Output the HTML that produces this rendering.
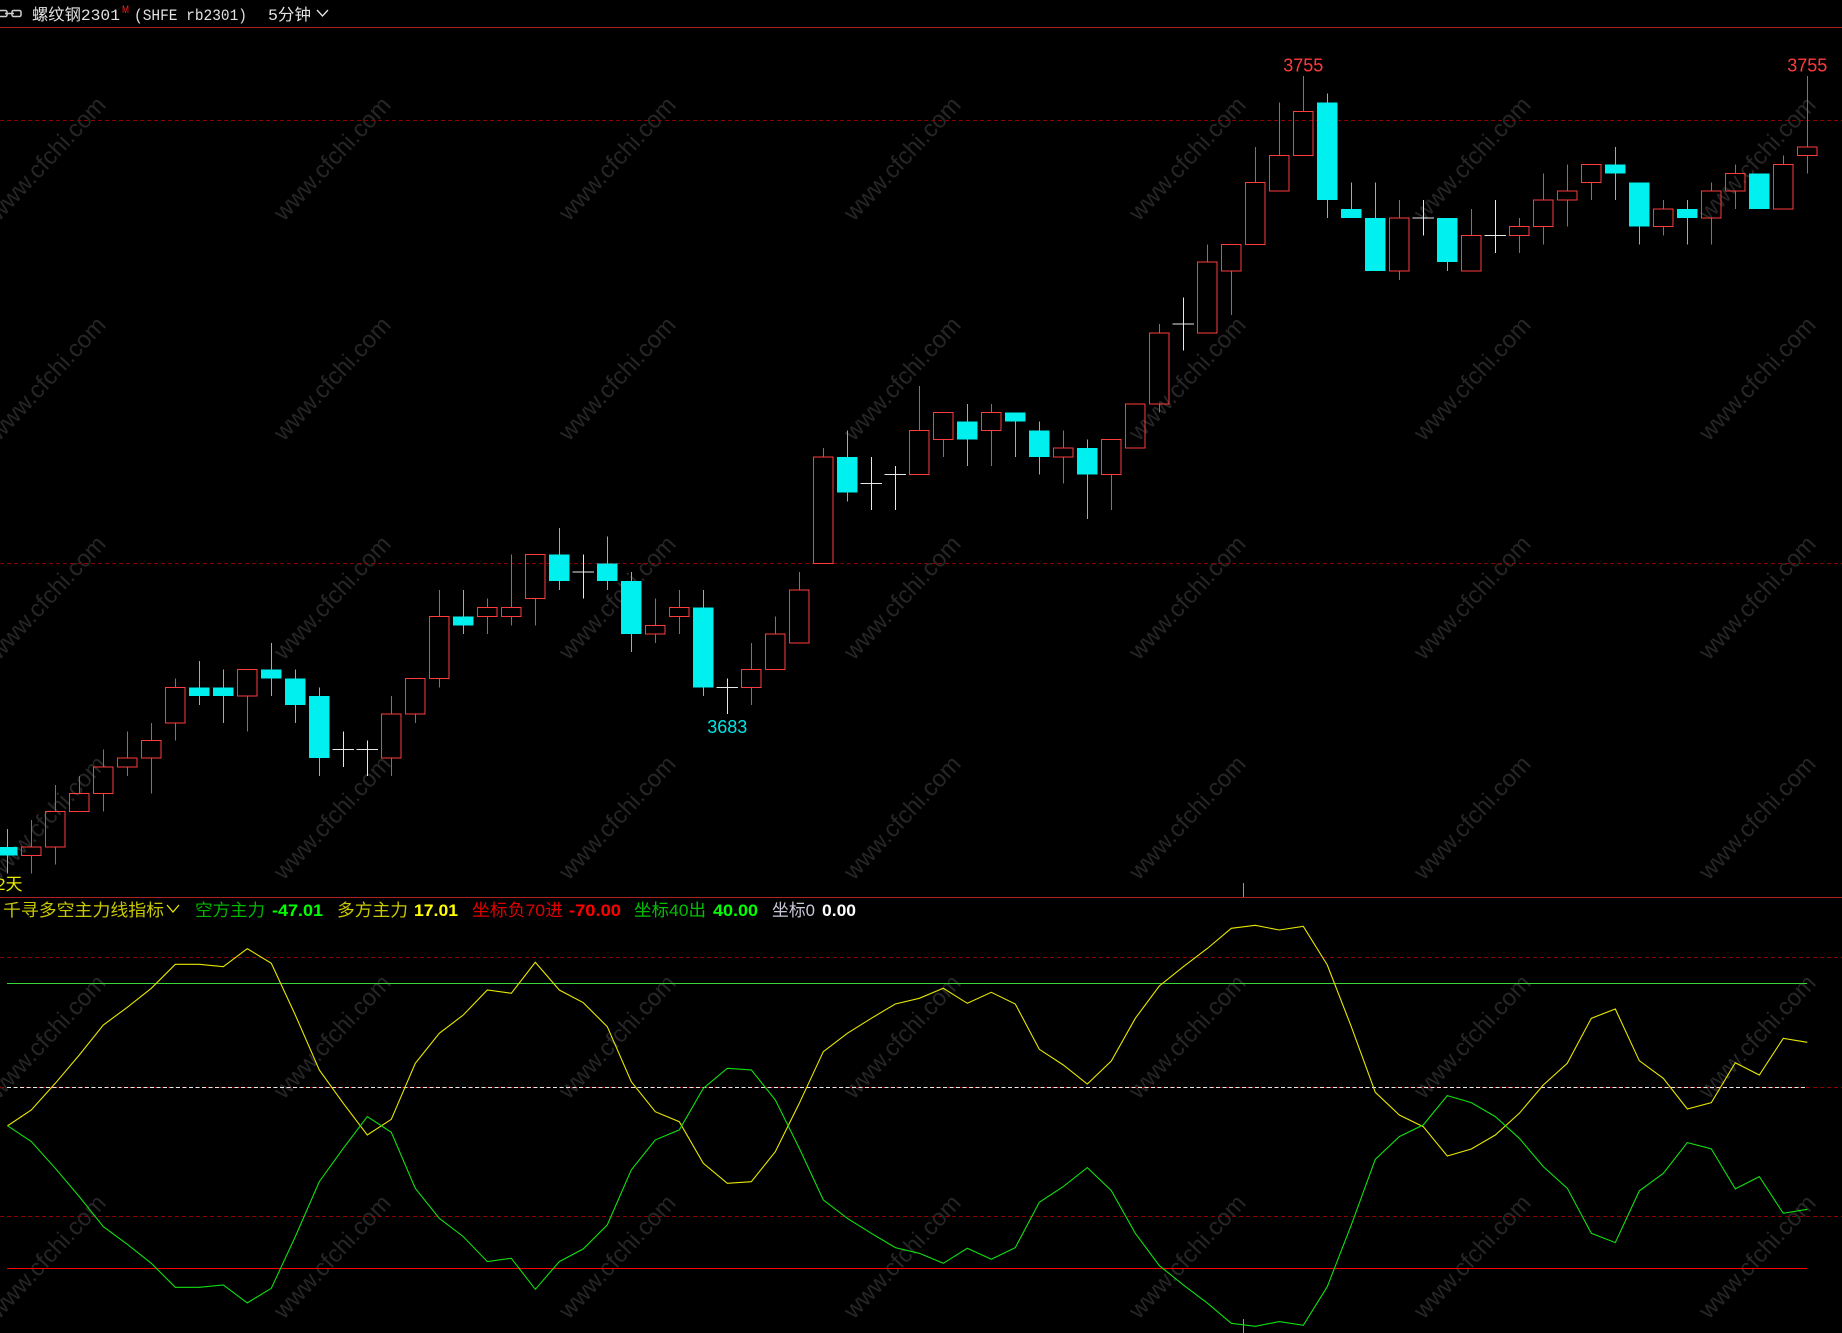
<!DOCTYPE html>
<html><head><meta charset="utf-8"><style>
html,body{margin:0;padding:0;background:#000;}
svg{display:block;}
</style></head><body>
<svg width="1842" height="1333" viewBox="0 0 1842 1333" xmlns="http://www.w3.org/2000/svg">
<rect width="1842" height="1333" fill="#000"/>
<!-- watermarks -->
<g font-family="Liberation Sans, sans-serif" font-size="24" fill="#262626" text-anchor="middle">
<g id="wr">
<text transform="translate(53 164) rotate(-47)">www.cfchi.com</text>
<text transform="translate(338 164) rotate(-47)">www.cfchi.com</text>
<text transform="translate(623 164) rotate(-47)">www.cfchi.com</text>
<text transform="translate(908 164) rotate(-47)">www.cfchi.com</text>
<text transform="translate(1193 164) rotate(-47)">www.cfchi.com</text>
<text transform="translate(1478 164) rotate(-47)">www.cfchi.com</text>
<text transform="translate(1763 164) rotate(-47)">www.cfchi.com</text>
</g>
<text transform="translate(53 384) rotate(-47)">www.cfchi.com</text>
<text transform="translate(338 384) rotate(-47)">www.cfchi.com</text>
<text transform="translate(623 384) rotate(-47)">www.cfchi.com</text>
<text transform="translate(908 384) rotate(-47)">www.cfchi.com</text>
<text transform="translate(1193 384) rotate(-47)">www.cfchi.com</text>
<text transform="translate(1478 384) rotate(-47)">www.cfchi.com</text>
<text transform="translate(1763 384) rotate(-47)">www.cfchi.com</text>
<text transform="translate(53 603) rotate(-47)">www.cfchi.com</text>
<text transform="translate(338 603) rotate(-47)">www.cfchi.com</text>
<text transform="translate(623 603) rotate(-47)">www.cfchi.com</text>
<text transform="translate(908 603) rotate(-47)">www.cfchi.com</text>
<text transform="translate(1193 603) rotate(-47)">www.cfchi.com</text>
<text transform="translate(1478 603) rotate(-47)">www.cfchi.com</text>
<text transform="translate(1763 603) rotate(-47)">www.cfchi.com</text>
<text transform="translate(53 823) rotate(-47)">www.cfchi.com</text>
<text transform="translate(338 823) rotate(-47)">www.cfchi.com</text>
<text transform="translate(623 823) rotate(-47)">www.cfchi.com</text>
<text transform="translate(908 823) rotate(-47)">www.cfchi.com</text>
<text transform="translate(1193 823) rotate(-47)">www.cfchi.com</text>
<text transform="translate(1478 823) rotate(-47)">www.cfchi.com</text>
<text transform="translate(1763 823) rotate(-47)">www.cfchi.com</text>
<text transform="translate(53 1042) rotate(-47)">www.cfchi.com</text>
<text transform="translate(338 1042) rotate(-47)">www.cfchi.com</text>
<text transform="translate(623 1042) rotate(-47)">www.cfchi.com</text>
<text transform="translate(908 1042) rotate(-47)">www.cfchi.com</text>
<text transform="translate(1193 1042) rotate(-47)">www.cfchi.com</text>
<text transform="translate(1478 1042) rotate(-47)">www.cfchi.com</text>
<text transform="translate(1763 1042) rotate(-47)">www.cfchi.com</text>
<text transform="translate(53 1262) rotate(-47)">www.cfchi.com</text>
<text transform="translate(338 1262) rotate(-47)">www.cfchi.com</text>
<text transform="translate(623 1262) rotate(-47)">www.cfchi.com</text>
<text transform="translate(908 1262) rotate(-47)">www.cfchi.com</text>
<text transform="translate(1193 1262) rotate(-47)">www.cfchi.com</text>
<text transform="translate(1478 1262) rotate(-47)">www.cfchi.com</text>
<text transform="translate(1763 1262) rotate(-47)">www.cfchi.com</text>
</g>

<!-- header -->
<g fill="none" stroke="#cfcfcf" stroke-width="1.5">
<rect x="-3" y="10.5" width="10" height="6" rx="1.5"/>
<rect x="12" y="10.5" width="9" height="6" rx="1.5"/>
<line x1="5" y1="13.5" x2="14" y2="13.5"/>
</g>
<g font-family="Liberation Mono, Noto Sans CJK SC, monospace" font-size="16" fill="#e2e2e2">
<text x="32" y="20" textLength="88" lengthAdjust="spacingAndGlyphs">螺纹钢2301</text>
<text x="134" y="20" textLength="113" lengthAdjust="spacingAndGlyphs">(SHFE rb2301)</text>
<text x="268" y="20" textLength="43" lengthAdjust="spacingAndGlyphs">5分钟</text>
</g>
<text x="122" y="13" font-family="Liberation Sans, sans-serif" font-size="11" fill="#ff2020" textLength="7" lengthAdjust="spacingAndGlyphs">M</text>
<polyline points="317,10 322.5,16 328,10" fill="none" stroke="#e2e2e2" stroke-width="1.3"/>
<line x1="0" y1="27.5" x2="1842" y2="27.5" stroke="#b02020" stroke-width="1"/>

<!-- main grid dashed -->
<g stroke="#8b0000" stroke-width="1" stroke-dasharray="4 3">
<line x1="0" y1="120.5" x2="1842" y2="120.5"/>
<line x1="0" y1="563.5" x2="1842" y2="563.5"/>
</g>

<!-- candles -->
<g transform="translate(7.3 76) scale(24 8.86)" shape-rendering="crispEdges">
<path vector-effect="non-scaling-stroke" stroke="#ff3c3c" stroke-width="1" fill="none" d="M1 84V87M1 88V90M2 80V83M2 87V89M3 79V81M4 76V78M4 81V83M5 74V77M5 78V79M6 73V75M6 77V81M7 68V69M7 73V75M10 70V74M16 70V72M16 77V79M17 72V73M18 58V61M18 68V69M20 59V60M20 61V63M21 54V60M21 61V62M22 59V62M27 59V62M27 63V64M28 58V60M28 61V63M31 64V67M31 69V71M32 61V63M33 56V58M34 42V43M38 35V40M39 41V43M41 37V38M41 40V44M44 40V42M44 43V46M46 45V49M48 28V29M48 37V38M50 19V21M51 22V27M52 8V12M53 3V9M54 0V4M58 14V16M58 22V23M61 15V18M63 16V17M63 18V20M64 11V14M64 17V19M65 10V13M65 14V17M66 12V14M69 14V15M69 17V18M71 12V13M71 16V19M72 10V11M72 13V15M74 9V10M75 0V8M75 9V11"/>
<path vector-effect="non-scaling-stroke" stroke="#ff3c3c" stroke-width="1" fill="none" d="M0.6 87h.8v1h-.8zM1.6 83h.8v4h-.8zM2.6 81h.8v2h-.8zM3.6 78h.8v3h-.8zM4.6 77h.8v1h-.8zM5.6 75h.8v2h-.8zM6.6 69h.8v4h-.8zM9.6 67h.8v3h-.8zM15.6 72h.8v5h-.8zM16.6 68h.8v4h-.8zM17.6 61h.8v7h-.8zM19.6 60h.8v1h-.8zM20.6 60h.8v1h-.8zM21.6 54h.8v5h-.8zM26.6 62h.8v1h-.8zM27.6 60h.8v1h-.8zM30.6 67h.8v2h-.8zM31.6 63h.8v4h-.8zM32.6 58h.8v6h-.8zM33.6 43h.8v12h-.8zM37.6 40h.8v5h-.8zM38.6 38h.8v3h-.8zM40.6 38h.8v2h-.8zM43.6 42h.8v1h-.8zM45.6 41h.8v4h-.8zM46.6 37h.8v5h-.8zM47.6 29h.8v8h-.8zM49.6 21h.8v8h-.8zM50.6 19h.8v3h-.8zM51.6 12h.8v7h-.8zM52.6 9h.8v4h-.8zM53.6 4h.8v5h-.8zM57.6 16h.8v6h-.8zM60.6 18h.8v4h-.8zM62.6 17h.8v1h-.8zM63.6 14h.8v3h-.8zM64.6 13h.8v1h-.8zM65.6 10h.8v2h-.8zM68.6 15h.8v2h-.8zM70.6 13h.8v3h-.8zM71.6 11h.8v2h-.8zM73.6 10h.8v5h-.8zM74.6 8h.8v1h-.8z"/>
<path vector-effect="non-scaling-stroke" stroke="#00f0f0" stroke-width="1" fill="none" d="M0 85V90M8 66V71M9 67V73M11 64V70M12 67V73M13 69V79M19 58V63M23 51V58M25 52V58M26 56V65M29 58V70M35 40V48M40 37V44M42 38V43M43 39V45M45 41V50M55 2V16M56 12V16M57 12V22M60 16V22M67 8V14M68 12V19M70 14V19M73 11V15"/>
<path fill="#00f0f0" d="M-.42 87h.84v1h-.84zM7.58 69h.84v1h-.84zM8.58 69h.84v1h-.84zM10.58 67h.84v1h-.84zM11.58 68h.84v3h-.84zM12.58 70h.84v7h-.84zM18.58 61h.84v1h-.84zM22.58 54h.84v3h-.84zM24.58 55h.84v2h-.84zM25.58 57h.84v6h-.84zM28.58 60h.84v9h-.84zM34.58 43h.84v4h-.84zM39.58 39h.84v2h-.84zM41.58 38h.84v1h-.84zM42.58 40h.84v3h-.84zM44.58 42h.84v3h-.84zM54.58 3h.84v11h-.84zM55.58 15h.84v1h-.84zM56.58 16h.84v6h-.84zM59.58 16h.84v5h-.84zM66.58 10h.84v1h-.84zM67.58 12h.84v5h-.84zM69.58 15h.84v1h-.84zM72.58 11h.84v4h-.84z"/>
<path vector-effect="non-scaling-stroke" stroke="#e8e8e8" stroke-width="1" fill="none" d="M14 74V78M13.56 76h.88M15 75V79M14.56 76h.88M24 54V59M23.56 56h.88M30 68V72M29.56 69h.88M36 43V49M35.56 46h.88M37 44V49M36.56 45h.88M49 25V31M48.56 28h.88M59 14V18M58.56 16h.88M62 14V20M61.56 18h.88"/>
</g>

<!-- price labels -->
<g font-family="Liberation Sans, sans-serif" font-size="18" text-anchor="middle">
<text x="1303.3" y="71.5" fill="#ff3c3c">3755</text>
<text x="1807.3" y="71.5" fill="#ff3c3c">3755</text>
<text x="727.3" y="733" fill="#00e6e6">3683</text>
</g>
<text x="-4" y="890" font-family="Liberation Sans, Noto Sans CJK SC, sans-serif" font-size="17" fill="#e8e800">2天</text>
<line x1="1243.5" y1="883" x2="1243.5" y2="897" stroke="#9a9a9a" stroke-width="1"/>

<!-- separator -->
<line x1="0" y1="897.5" x2="1842" y2="897.5" stroke="#b02020" stroke-width="1"/>

<!-- indicator title -->
<g font-family="Liberation Sans, Noto Sans CJK SC, sans-serif" font-size="17">
<text x="3" y="916" fill="#c8c800" textLength="161" lengthAdjust="spacingAndGlyphs">千寻多空主力线指标</text>
<text x="195" y="916" fill="#00b400" textLength="70" lengthAdjust="spacingAndGlyphs">空方主力</text>
<text x="272" y="916" fill="#00ff00" font-weight="bold" textLength="51" lengthAdjust="spacingAndGlyphs">-47.01</text>
<text x="337" y="916" fill="#c8c800" textLength="71" lengthAdjust="spacingAndGlyphs">多方主力</text>
<text x="414" y="916" fill="#ffff00" font-weight="bold" textLength="44" lengthAdjust="spacingAndGlyphs">17.01</text>
<text x="472" y="916" fill="#e00000" textLength="91" lengthAdjust="spacingAndGlyphs">坐标负70进</text>
<text x="569" y="916" fill="#ff0000" font-weight="bold" textLength="52" lengthAdjust="spacingAndGlyphs">-70.00</text>
<text x="634" y="916" fill="#00c000" textLength="72" lengthAdjust="spacingAndGlyphs">坐标40出</text>
<text x="713" y="916" fill="#00ff00" font-weight="bold" textLength="45" lengthAdjust="spacingAndGlyphs">40.00</text>
<text x="772" y="916" fill="#c8c8d8" textLength="43" lengthAdjust="spacingAndGlyphs">坐标0</text>
<text x="822" y="916" fill="#ffffff" font-weight="bold" textLength="34" lengthAdjust="spacingAndGlyphs">0.00</text>
</g>
<polyline points="167,905 173,912 179,905" fill="none" stroke="#e8e800" stroke-width="1.3"/>

<!-- indicator grid -->
<g stroke="#8b0000" stroke-width="1" stroke-dasharray="4 3">
<line x1="0" y1="957.5" x2="1842" y2="957.5"/>
<line x1="0" y1="1087.5" x2="1842" y2="1087.5"/>
<line x1="0" y1="1216.5" x2="1842" y2="1216.5"/>
</g>
<line x1="7" y1="983.5" x2="1807" y2="983.5" stroke="#3ad63a" stroke-width="1"/>
<line x1="7" y1="1087.5" x2="1807" y2="1087.5" stroke="#e8e8e8" stroke-width="1" stroke-dasharray="4 2.5"/>
<line x1="7" y1="1268.5" x2="1807" y2="1268.5" stroke="#ff0000" stroke-width="1"/>
<line x1="1243.5" y1="1319" x2="1243.5" y2="1333" stroke="#9a9a9a" stroke-width="1"/>

<!-- yellow line -->
<polyline fill="none" stroke="#e8e800" stroke-width="1.1" points="7.3,1126 31.3,1110 55.3,1083.3 79.3,1055 103.3,1025 127.3,1007.3 151.3,988.3 175.3,964.3 199.3,964.3 223.3,966.7 247.3,948.7 271.3,963.3 295.3,1015 319.3,1070 343.3,1103.3 367.3,1135 391.3,1119.3 415.3,1063.3 439.3,1033.3 463.3,1015 487.3,990 511.3,993.3 535.3,962.3 559.3,990 583.3,1002.7 607.3,1026.7 631.3,1081.7 655.3,1111.7 679.3,1121.7 703.3,1163.3 727.3,1183.3 751.3,1181.7 775.3,1151.7 799.3,1103.3 823.3,1051.7 847.3,1033.3 871.3,1018.3 895.3,1004 919.3,998.3 943.3,988.3 967.3,1003.3 991.3,992.3 1015.3,1004 1039.3,1049.3 1063.3,1065 1087.3,1084 1111.3,1061 1135.3,1018.3 1159.3,986 1183.3,966.7 1207.3,948.5 1231.3,928.3 1255.3,925.3 1279.3,930 1303.3,926.3 1327.3,965 1351.3,1026.7 1375.3,1092.3 1399.3,1115 1423.3,1126.7 1447.3,1156 1471.3,1149 1495.3,1135 1519.3,1113.3 1543.3,1085 1567.3,1063.3 1591.3,1018.3 1615.3,1009 1639.3,1060.7 1663.3,1078.3 1687.3,1109 1711.3,1102.7 1735.3,1062.7 1759.3,1075 1783.3,1038.3 1807.3,1042.3"/>
<!-- green line -->
<polyline fill="none" stroke="#10e010" stroke-width="1.1" points="7.3,1125.6 31.3,1141.6 55.3,1168.3 79.3,1196.6 103.3,1226.6 127.3,1244.3 151.3,1263.3 175.3,1287.3 199.3,1287.3 223.3,1284.9 247.3,1302.9 271.3,1288.3 295.3,1236.6 319.3,1181.6 343.3,1148.3 367.3,1116.6 391.3,1132.3 415.3,1188.3 439.3,1218.3 463.3,1236.6 487.3,1261.6 511.3,1258.3 535.3,1289.3 559.3,1261.6 583.3,1248.9 607.3,1224.9 631.3,1169.9 655.3,1139.9 679.3,1129.9 703.3,1088.3 727.3,1068.3 751.3,1069.9 775.3,1099.9 799.3,1148.3 823.3,1199.9 847.3,1218.3 871.3,1233.3 895.3,1247.6 919.3,1253.3 943.3,1263.3 967.3,1248.3 991.3,1259.3 1015.3,1247.6 1039.3,1202.3 1063.3,1186.6 1087.3,1167.6 1111.3,1190.6 1135.3,1233.3 1159.3,1265.6 1183.3,1284.9 1207.3,1303.1 1231.3,1323.3 1255.3,1326.3 1279.3,1321.6 1303.3,1325.3 1327.3,1286.6 1351.3,1224.9 1375.3,1159.3 1399.3,1136.6 1423.3,1124.9 1447.3,1095.6 1471.3,1102.6 1495.3,1116.6 1519.3,1138.3 1543.3,1166.6 1567.3,1188.3 1591.3,1233.3 1615.3,1242.6 1639.3,1190.9 1663.3,1173.3 1687.3,1142.6 1711.3,1148.9 1735.3,1188.9 1759.3,1176.6 1783.3,1213.3 1807.3,1209.3"/>
</svg>
</body></html>
